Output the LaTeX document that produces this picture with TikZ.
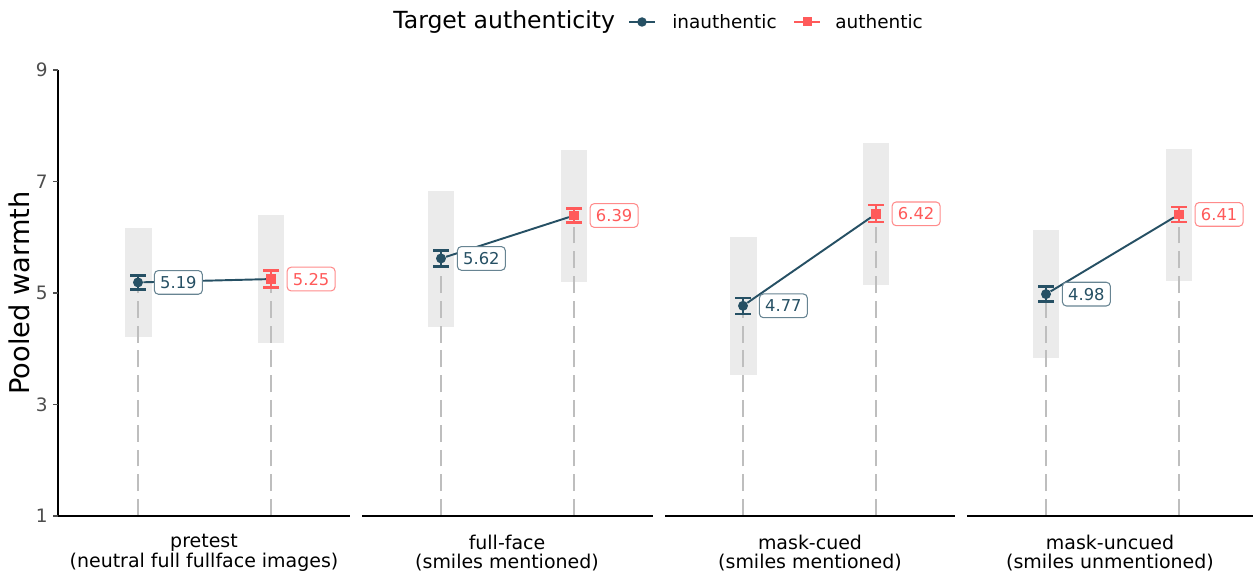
\documentclass[tikz,border=0pt]{standalone}
\usepackage{fontspec}
\setmainfont{DejaVu Sans}
\usepackage{tikz}
\usetikzlibrary{positioning,backgrounds}
\usepackage{xcolor}
\definecolor{inauth}{RGB}{38,80,100}
\definecolor{auth}{RGB}{255,90,90}
\definecolor{band}{RGB}{235,235,235}
\definecolor{guidegray}{RGB}{190,190,190}
\definecolor{tickgray}{RGB}{77,77,77}
% value -> pixel row
\newcommand{\warm}[1]{516-(#1-1)*55.75}
% error bar: colour, node, half height
\newcommand{\errbar}[3]{\draw[#1, line width=1.3pt] (#2.center) ++(-8,-#3) -- ++(16,0) ++(-8,0) -- ++(0,{2*#3}) ++(-8,0) -- ++(16,0);}

\begin{document}
\begin{tikzpicture}[
    x=0.02cm, y=-0.02cm,
    inpt/.style={circle, fill=inauth, inner sep=0pt, minimum size=0.2cm},
    aupt/.style={rectangle, fill=auth, inner sep=0pt, minimum size=0.19cm},
    vallab/.style={rectangle, fill=white, rounded corners=2.3pt, line width=0.6pt,
                   font=\fontsize{9.3}{11}\selectfont, inner xsep=3.3pt, inner ysep=0pt,
                   minimum height=13.5pt, right=0.21cm of #1},
    inlab/.style={vallab=#1, draw=inauth!70, text=inauth},
    aulab/.style={vallab=#1, draw=auth!70, text=auth},
    guide/.style={guidegray, line width=1.1pt, dash pattern=on 9.6pt off 4.5pt},
    link/.style={inauth, line width=1.1pt},
    axis/.style={black, line width=1.1pt},
    ticklab/.style={anchor=east, inner sep=0pt, text=tickgray, font=\fontsize{10.5}{12}\selectfont},
    panellab/.style={align=center, font=\fontsize{10.8}{11.3}\selectfont},
    keylab/.style={anchor=base west, inner sep=0pt, font=\fontsize{10.5}{12}\selectfont}
]
\useasboundingbox (0,0) rectangle (1253,577);

% Legend
\node[anchor=base west, inner sep=0pt, font=\fontsize{13.4}{15}\selectfont] (ttl) at (393,29) {Target authenticity};
\node[inpt, minimum size=0.19cm] (kin) at (642,22) {};
\node[keylab] (kintxt) at (672,29) {inauthentic};
\node[aupt, minimum size=0.18cm] (kau) at (807,22) {};
\node[keylab] (kautxt) at (835,29) {authentic};

% Axes
\coordinate (ytop) at (58,70);
\coordinate (orig) at (58,516);
\draw[axis] (ytop) -- (orig);
\node[ticklab] (t9) at (48,{\warm{9}}) {9};
\node[ticklab] (t7) at (48,{\warm{7}}) {7};
\node[ticklab] (t5) at (48,{\warm{5}}) {5};
\node[ticklab] (t3) at (48,{\warm{3}}) {3};
\node[ticklab] (t1) at (48,{\warm{1}}) {1};
\draw[tickgray, line width=0.6pt] (53,{\warm{9}}) -- (58,{\warm{9}}) (53,{\warm{7}}) -- (58,{\warm{7}})
  (53,{\warm{5}}) -- (58,{\warm{5}}) (53,{\warm{3}}) -- (58,{\warm{3}}) (53,{\warm{1}}) -- (58,{\warm{1}});
\node[rotate=90, font=\fontsize{15.5}{18}\selectfont] (ytitle) at (19,293) {Pooled warmth};
\draw[axis] (orig) -- (350,516);
\draw[axis] (362,516) -- (653,516);
\draw[axis] (665,516) -- (955,516);
\draw[axis] (967,516) -- (1253,516);

% Panel labels
\node[panellab] (lab1) at (204,553) {pretest\\(neutral full fullface images)};
\node[panellab] (lab2) at (507,553) {full-face\\(smiles mentioned)};
\node[panellab] (lab3) at (810,553) {mask-cued\\(smiles mentioned)};
\node[panellab] (lab4) at (1110,553) {mask-uncued\\(smiles unmentioned)};

% Means
\node[inpt] (p1a) at (138,{\warm{5.19}}) {};
\node[aupt] (p1b) at (271,{\warm{5.25}}) {};
\node[inpt] (p2a) at (441,{\warm{5.62}}) {};
\node[aupt] (p2b) at (574,{\warm{6.39}}) {};
\node[inpt] (p3a) at (743,{\warm{4.77}}) {};
\node[aupt] (p3b) at (876,{\warm{6.42}}) {};
\node[inpt] (p4a) at (1046,{\warm{4.98}}) {};
\node[aupt] (p4b) at (1179,{\warm{6.41}}) {};

\errbar{inauth}{p1a}{7}
\errbar{auth}{p1b}{8.5}
\errbar{inauth}{p2a}{8}
\errbar{auth}{p2b}{7}
\errbar{inauth}{p3a}{8}
\errbar{auth}{p3b}{8.5}
\errbar{inauth}{p4a}{7.5}
\errbar{auth}{p4b}{7.5}

\node[inlab=p1a] (v1a) {5.19};
\node[aulab=p1b] (v1b) {5.25};
\node[inlab=p2a] (v2a) {5.62};
\node[aulab=p2b] (v2b) {6.39};
\node[inlab=p3a] (v3a) {4.77};
\node[aulab=p3b] (v3b) {6.42};
\node[inlab=p4a] (v4a) {4.98};
\node[aulab=p4b] (v4b) {6.41};

% Feet of the guides
\coordinate (b1a) at (138,516);
\coordinate (b1b) at (271,516);
\coordinate (b2a) at (441,516);
\coordinate (b2b) at (574,516);
\coordinate (b3a) at (743,516);
\coordinate (b3b) at (876,516);
\coordinate (b4a) at (1046,516);
\coordinate (b4b) at (1179,516);

\begin{scope}[on background layer]
% Spread bands
\fill[band] (125,228) rectangle (152,337);
\fill[band] (258,215) rectangle (284,343);
\fill[band] (428,191) rectangle (454,327);
\fill[band] (561,150) rectangle (587,282);
\fill[band] (730,237) rectangle (757,375);
\fill[band] (863,143) rectangle (889,285);
\fill[band] (1033,230) rectangle (1059,358);
\fill[band] (1166,149) rectangle (1192,281);

\draw[guide] (b1a) -- (p1a);
\draw[guide] (b1b) -- (p1b);
\draw[guide] (b2a) -- (p2a);
\draw[guide] (b2b) -- (p2b);
\draw[guide] (b3a) -- (p3a);
\draw[guide] (b3b) -- (p3b);
\draw[guide] (b4a) -- (p4a);
\draw[guide] (b4b) -- (p4b);

\draw[link] (p1a) -- (p1b);
\draw[link] (p2a) -- (p2b);
\draw[link] (p3a) -- (p3b);
\draw[link] (p4a) -- (p4b);

% Legend keys
\draw[link] (kin.center) ++(-13,0) -- ++(26,0);
\draw[auth, line width=1.1pt] (kau.center) ++(-13,0) -- ++(26,0);
\end{scope}

\end{tikzpicture}
\end{document}
